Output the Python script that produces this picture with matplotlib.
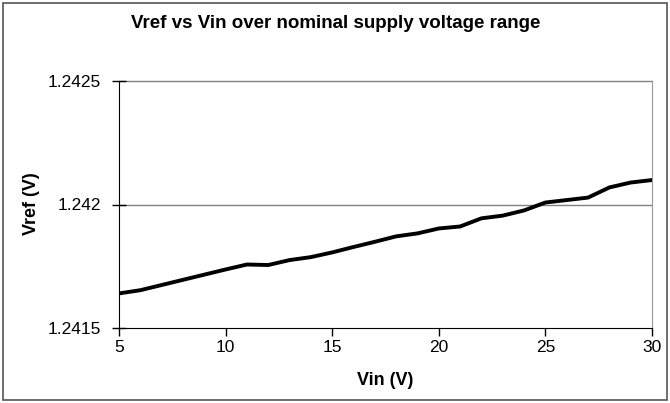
import matplotlib
matplotlib.use("Agg")
import matplotlib.pyplot as plt
from matplotlib.patches import Rectangle

plt.rcParams['font.family'] = ['Liberation Sans', 'DejaVu Sans']

# data
vin = [5, 6, 7, 8, 9, 10, 11, 12, 13, 14, 15, 16, 17,
       18, 19, 20, 21, 22, 23, 24, 25, 26, 27, 28, 29, 30]
vref = [1.241640, 1.241653, 1.241674, 1.241695, 1.241716, 1.241737,
        1.241757, 1.241755, 1.241775, 1.241787, 1.241806, 1.241828,
        1.241849, 1.241871, 1.241883, 1.241903, 1.241911, 1.241944,
        1.241955, 1.241976, 1.242008, 1.242018, 1.242028, 1.242069,
        1.242089, 1.242099]
x_ticks = [5, 10, 15, 20, 25, 30]
y_ticks = [1.2415, 1.242, 1.2425]
y_tick_labels = ['1.2415', '1.242', '1.2425']

W, H = 670, 403
fig = plt.figure(figsize=(W / 100, H / 100), dpi=100)
ax = fig.add_axes([119 / W, 1 - 328 / H, (652 - 119) / W, (328 - 81) / H])

# chart area border
fig.patches.append(Rectangle((3 / W, 3 / H), 664 / W, 397 / H, transform=fig.transFigure,
                             fill=False, edgecolor='#555555', linewidth=1.2))

ax.axhline(1.242, color='#808080', linewidth=1, zorder=1)
ax.axhline(1.2425, color='#808080', linewidth=1, zorder=1, clip_on=False)
ax.plot(vin, vref, color='black', linewidth=2.8, solid_capstyle='round',
        solid_joinstyle='round', zorder=3)

ax.set_xlim(5, 30)
ax.set_ylim(1.2415, 1.2425)
ax.set_xticks(x_ticks)
ax.set_yticks(y_ticks)
ax.set_yticklabels(y_tick_labels)

ax.spines['top'].set_visible(False)
ax.spines['right'].set_color('#999999')
ax.spines['left'].set_color('black')
ax.spines['bottom'].set_color('black')
ax.tick_params(axis='x', direction='out', length=6, width=1, labelsize=12.5, pad=3)
ax.tick_params(axis='y', direction='inout', length=10, width=1, labelsize=12.5, pad=8)

ax.set_xlabel('Vin (V)', fontsize=13, fontweight='bold', labelpad=12)
fig.text(32 / W, 1 - 204 / H, 'Vref (V)', rotation=90, fontsize=13, fontweight='bold',
         ha='center', va='center')
fig.text(336 / W, 1 - 24 / H, 'Vref vs Vin over nominal supply voltage range',
         fontsize=13.5, fontweight='bold', ha='center', va='center')

fig.savefig('out.png', dpi=100)
